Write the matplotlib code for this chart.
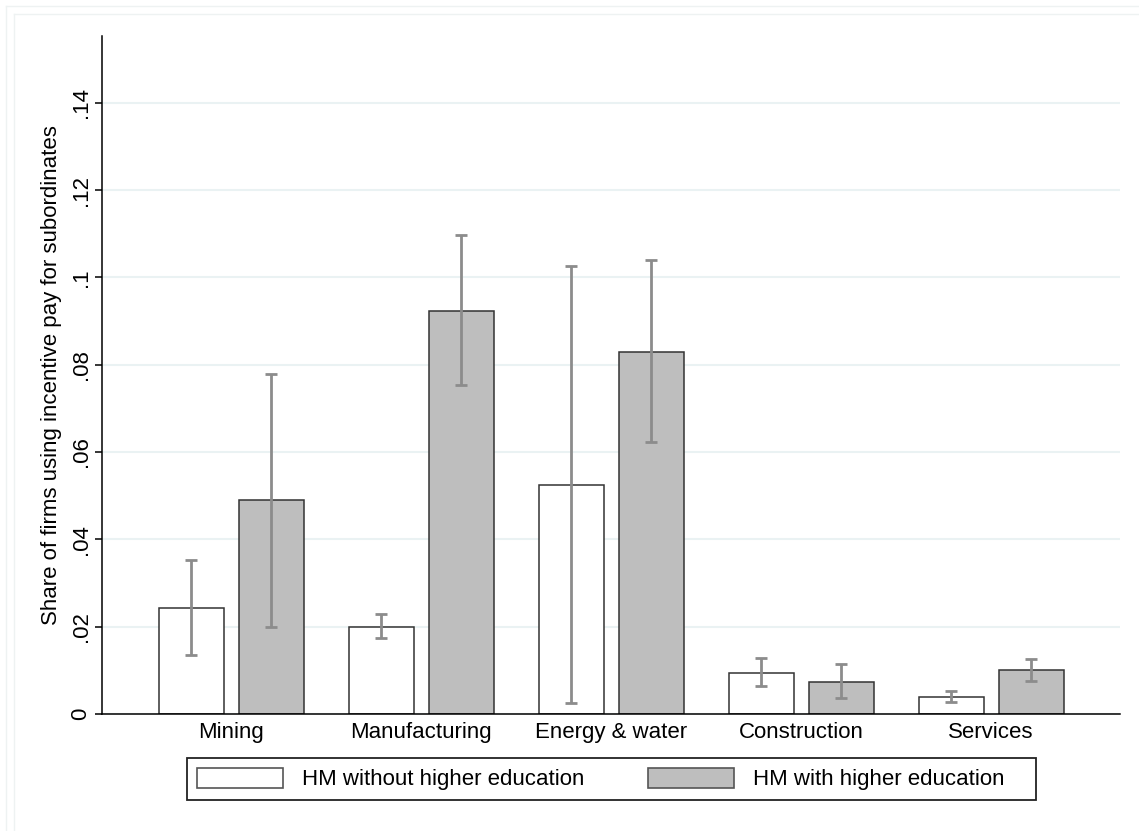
import numpy as np
import matplotlib.pyplot as plt
from matplotlib.patches import Rectangle
from matplotlib.lines import Line2D

plt.rcParams['font.family'] = ['Liberation Sans', 'DejaVu Sans']

sectors = ["Mining", "Manufacturing", "Energy & water", "Construction", "Services"]
series = ["HM without higher education", "HM with higher education"]

no_degree = [0.0243, 0.0199, 0.0525, 0.0095, 0.0039]
no_degree_lo = [0.0135, 0.0173, 0.0025, 0.0063, 0.0028]
no_degree_hi = [0.0353, 0.0229, 0.1026, 0.0129, 0.0053]

degree = [0.0490, 0.0924, 0.0830, 0.0073, 0.0101]
degree_lo = [0.0199, 0.0754, 0.0622, 0.0036, 0.0075]
degree_hi = [0.0779, 0.1097, 0.1040, 0.0115, 0.0127]

yticks = [0, 0.02, 0.04, 0.06, 0.08, 0.10, 0.12, 0.14]
ytick_labels = ["0", ".02", ".04", ".06", ".08", ".1", ".12", ".14"]

fig = plt.figure(figsize=(11.39, 8.31), dpi=100)
W, H = 1139, 831
ax = fig.add_axes([102 / W, (H - 714) / H, (1120 - 102) / W, (714 - 36) / H])

x = np.arange(len(sectors))
width = 0.342
off = 0.2105
err_color = "#8c8c8c"

ax.bar(x - off, no_degree, width, color="white", edgecolor="#333333", linewidth=1.1, zorder=2)
ax.bar(x + off, degree, width, color="#bebebe", edgecolor="#333333", linewidth=1.1, zorder=2)

for xs, vals, lo, hi in [(x - off, no_degree, no_degree_lo, no_degree_hi),
                         (x + off, degree, degree_lo, degree_hi)]:
    vals = np.array(vals)
    yerr = [vals - np.array(lo), np.array(hi) - vals]
    ax.errorbar(xs, vals, yerr=yerr, fmt="none", ecolor=err_color,
                elinewidth=2, capsize=4.3, capthick=2, zorder=3)

ax.set_xlim(-0.6816, 4.679)
ax.set_ylim(0, 0.1553)
ax.set_yticks(yticks)
ax.set_yticklabels(ytick_labels, rotation=90, va="center", fontsize=16)
ax.set_xticks(x)
ax.set_xticklabels(sectors, fontsize=16)
ax.tick_params(axis="x", length=0, pad=6)
ax.tick_params(axis="y", length=5, width=1.1, pad=2.5)
ax.set_ylabel("Share of firms using incentive pay for subordinates", fontsize=16, labelpad=6.5)

ax.yaxis.grid(True, color="#eaf2f3", linewidth=1.5)
ax.set_axisbelow(True)
ax.spines["top"].set_visible(False)
ax.spines["right"].set_visible(False)
ax.spines["left"].set_linewidth(1.1)
ax.spines["bottom"].set_linewidth(1.1)

# legend frame drawn separately (Stata leaves extra room on the right)
fig.add_artist(Rectangle((187 / W, (H - 800) / H), (1036 - 187) / W, 42 / H,
                         transform=fig.transFigure, facecolor="white",
                         edgecolor="#222222", linewidth=1.3, zorder=1))
handles = [Rectangle((0, 0), 1, 1, facecolor="white", edgecolor="#555555", linewidth=1.2),
           Rectangle((0, 0), 1, 1, facecolor="#bebebe", edgecolor="#555555", linewidth=1.2)]
leg = fig.legend(handles, series, loc="center left", bbox_to_anchor=(187 / W, (H - 779) / H),
                 ncol=2, fontsize=16, frameon=False,
                 handlelength=3.87, handleheight=1.0, handletextpad=0.84,
                 columnspacing=2.9, borderpad=0.45, borderaxespad=0)
leg.set_zorder(2)

# faint graph-region borders
for p in (6, 14):
    fig.add_artist(Line2D([p / W, p / W], [0, 1 - p / H], color="#eef2f2", linewidth=1))
    fig.add_artist(Line2D([p / W, 1], [1 - p / H, 1 - p / H], color="#eef2f2", linewidth=1))

fig.savefig("out.png", dpi=100)
